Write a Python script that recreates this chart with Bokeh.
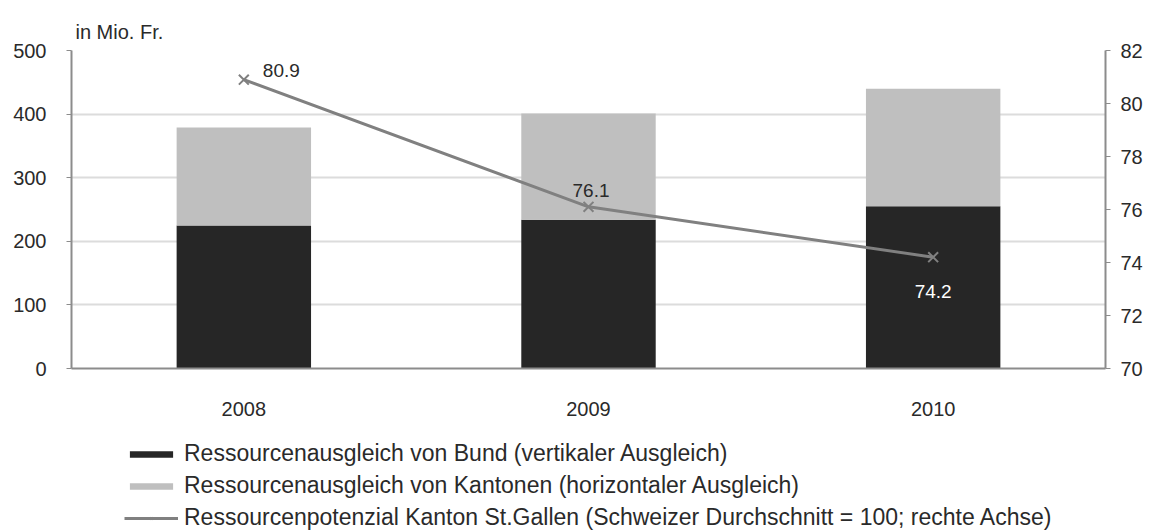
from bokeh.plotting import figure
from bokeh.layouts import column
from bokeh.models import (ColumnDataSource, FactorRange, Range1d, LinearAxis,
                          FixedTicker, Legend, LegendItem, Title)
from bokeh.core.properties import value
from bokeh.embed import file_html
from bokeh.resources import INLINE

years = ["2008", "2009", "2010"]
bund = [225, 234, 255]
kantone = [154, 167, 185]
potenzial = [80.9, 76.1, 74.2]
potenzial_labels = ["80.9", "76.1", "74.2"]
left_ticks = [0, 100, 200, 300, 400, 500]
right_ticks = [70, 72, 74, 76, 78, 80, 82]
series_names = ["Ressourcenausgleich von Bund (vertikaler Ausgleich)",
                "Ressourcenausgleich von Kantonen (horizontaler Ausgleich)",
                "Ressourcenpotenzial Kanton St.Gallen (Schweizer Durchschnitt = 100; rechte Achse)"]

FONT = "Liberation Sans"
DARK = "#262626"
LIGHT = "#bfbfbf"
LINE = "#808080"
TXT = "#2a2a2a"

src = ColumnDataSource(dict(years=years, bund=bund, kantone=kantone,
                            pot=potenzial, lab=potenzial_labels))

xr = FactorRange(*years, range_padding=0)
yr = Range1d(0, 500)
p = figure(width=1159, height=418, output_backend="svg", toolbar_location=None,
           x_range=xr, y_range=yr,
           min_border_left=71, min_border_right=54, min_border_top=50,
           min_border_bottom=50)
p.outline_line_color = None
p.extra_y_ranges = {"right": Range1d(70, 82)}

p.vbar_stack(["bund", "kantone"], x="years", width=0.39, source=src,
             color=[DARK, LIGHT], line_color=None)
p.line(x="years", y="pot", source=src, y_range_name="right",
       line_color=LINE, line_width=3)
p.scatter(x="years", y="pot", source=src, y_range_name="right",
          marker="x", size=14, line_color=LINE, line_width=2)

# axes
p.yaxis.ticker = FixedTicker(ticks=left_ticks)
ax = p.yaxis[0]
ax.axis_line_color = "#8c8c8c"
ax.axis_line_width = 2
ax.major_tick_line_color = "#8c8c8c"
ax.major_tick_out = 5
ax.major_tick_in = 0
ax.minor_tick_line_color = None
ax.major_label_text_font = FONT
ax.major_label_text_font_size = "20px"
ax.major_label_text_color = TXT
ax.major_label_standoff = 20

right = LinearAxis(y_range_name="right", ticker=FixedTicker(ticks=right_ticks))
right.axis_line_color = "#8c8c8c"
right.axis_line_width = 2
right.major_tick_line_color = "#8c8c8c"
right.major_tick_out = 5
right.major_tick_in = 0
right.minor_tick_line_color = None
right.major_label_text_font = FONT
right.major_label_text_font_size = "20px"
right.major_label_text_color = TXT
right.major_label_standoff = 10
p.add_layout(right, "right")

xa = p.xaxis[0]
xa.axis_line_color = "#8c8c8c"
xa.axis_line_width = 2
xa.major_tick_line_color = None
xa.minor_tick_line_color = None
xa.major_label_text_font = FONT
xa.major_label_text_font_size = "20px"
xa.major_label_text_color = TXT
xa.major_label_standoff = 27

p.xgrid.grid_line_color = None
p.ygrid.grid_line_color = "#dcdcdc"
p.ygrid.grid_line_width = 2
p.ygrid.ticker = FixedTicker(ticks=left_ticks)

# value labels
label_styles = [(19, -9, TXT, "left"), (-16, -16, TXT, "left"),
                (0, 34, "white", "center")]
for i, (xo, yo, col, al) in enumerate(label_styles):
    p.text(x=[years[i]], y=[potenzial[i]], text=[potenzial_labels[i]],
           y_range_name="right", x_offset=xo, y_offset=yo,
           text_font=value(FONT), text_font_size="19px", text_color=col,
           text_baseline="middle", text_align=al)

p.add_layout(Title(text="in Mio. Fr.", align="left", offset=4, standoff=15,
                   text_font=FONT, text_font_size="20px",
                   text_font_style="normal", text_color=TXT), "above")

# legend strip (separate figure; its renderers are hidden and serve only as keys)
q = figure(width=1159, height=113, output_backend="svg", toolbar_location=None,
           x_range=xr, y_range=Range1d(0, 500), min_border=0)
q.outline_line_color = None
q.axis.visible = False
q.grid.visible = False
q.extra_y_ranges = {"right": Range1d(70, 82)}
ks = q.vbar_stack(["bund", "kantone"], x="years", width=0.39, source=src,
                  color=[DARK, LIGHT], line_color=None)
kl = q.line(x="years", y="pot", source=src, y_range_name="right",
            line_color=LINE, line_width=3)
kp = q.scatter(x="years", y="pot", source=src, y_range_name="right",
               marker="x", size=10, line_color=LINE, line_width=1.5)
for r in ks + [kl, kp]:
    r.visible = False

legend = Legend(items=[
    LegendItem(label=series_names[0], renderers=[ks[0]]),
    LegendItem(label=series_names[1], renderers=[ks[1]]),
    LegendItem(label=series_names[2], renderers=[kl, kp]),
], location=(53, 0), orientation="vertical", click_policy="none")
legend.border_line_color = None
legend.background_fill_alpha = 0
legend.glyph_width = 54
legend.glyph_height = 8
legend.label_height = 24
legend.spacing = 5
legend.padding = 0
legend.margin = 0
legend.label_standoff = 6
legend.label_text_font = FONT
legend.label_text_font_size = "23px"
legend.label_text_color = TXT
q.add_layout(legend, "center")

open("out.html", "w").write(file_html(column(p, q, spacing=0), INLINE))
